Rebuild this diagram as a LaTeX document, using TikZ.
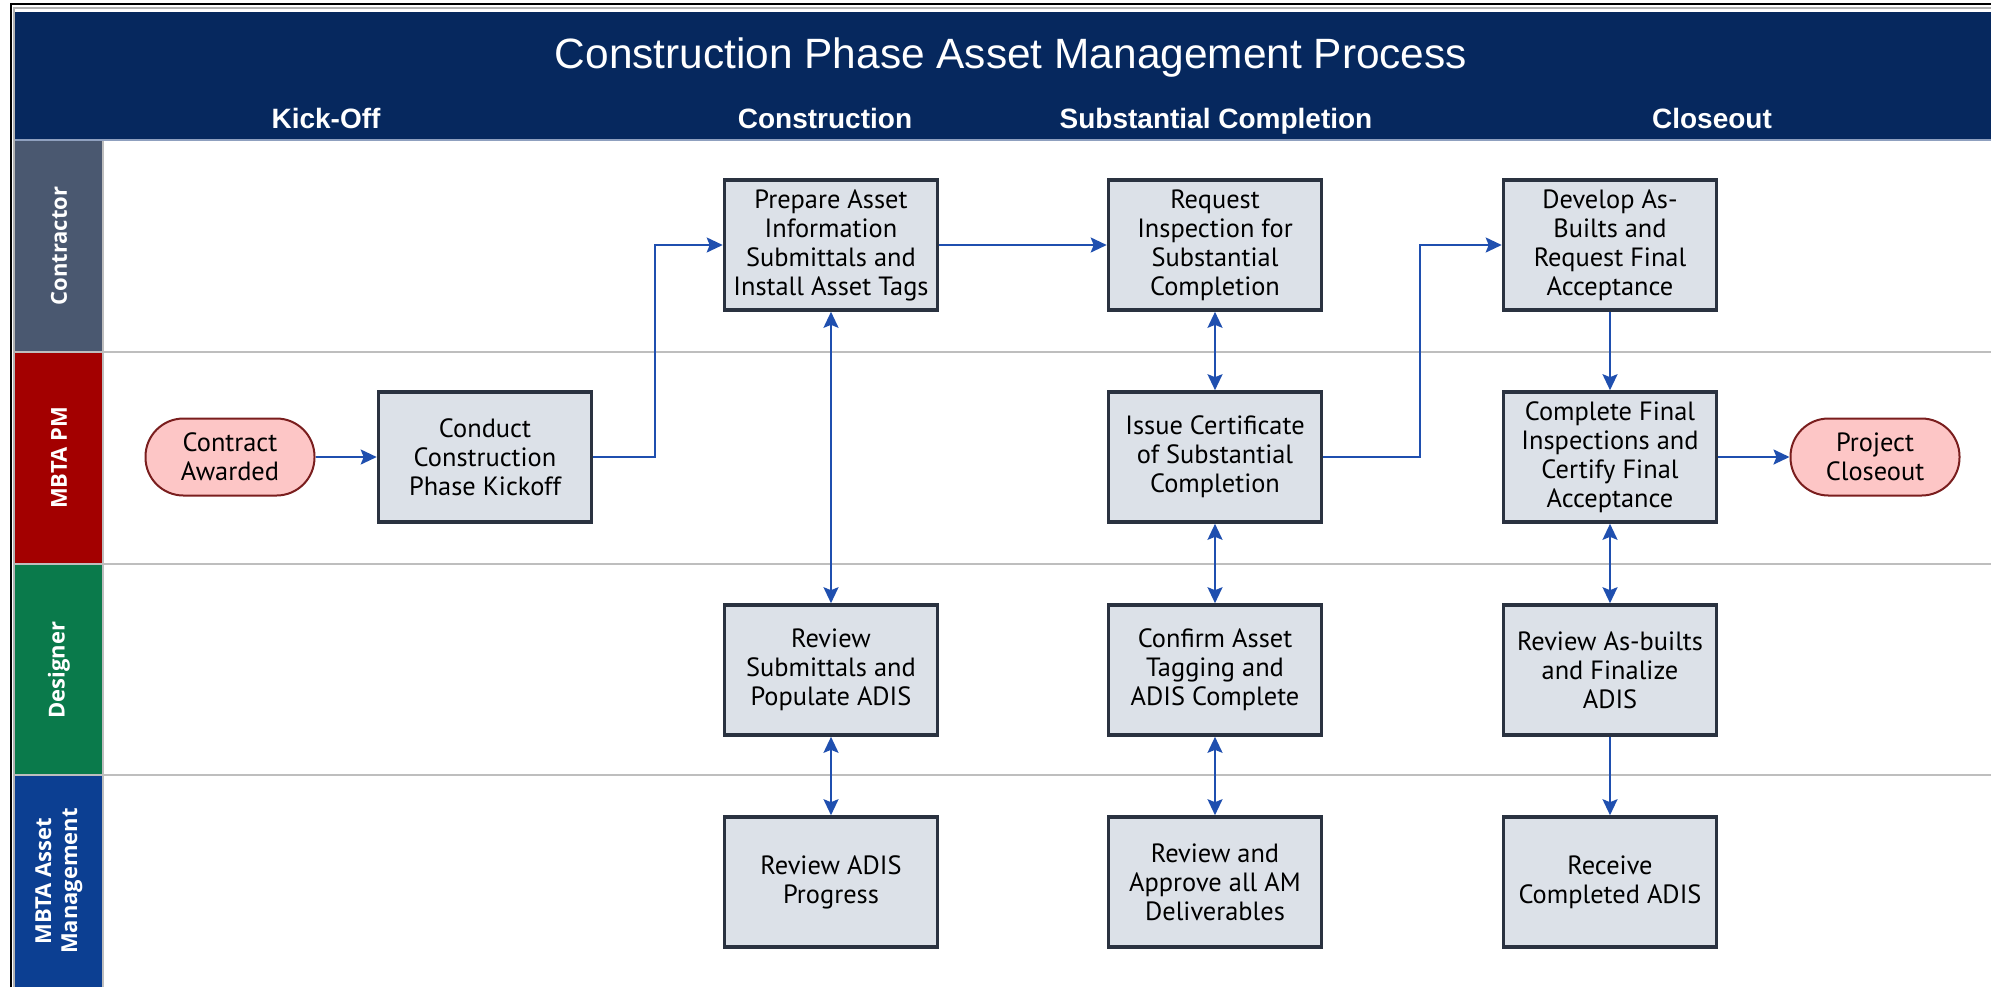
\documentclass[tikz,border=0pt]{standalone}
\usepackage{fontspec}
\setmainfont{PT Sans}
\newfontfamily\titlefont{Liberation Sans}
\newfontfamily\lanefont{Open Sans}
\usetikzlibrary{arrows.meta}
\definecolor{navy}{RGB}{6,40,94}
\definecolor{cContr}{RGB}{74,88,112}
\definecolor{cPM}{RGB}{163,0,0}
\definecolor{cDes}{RGB}{10,122,75}
\definecolor{cAM}{RGB}{12,63,146}
\definecolor{boxfill}{RGB}{220,225,232}
\definecolor{boxline}{RGB}{42,50,64}
\definecolor{termfill}{RGB}{253,198,198}
\definecolor{termline}{RGB}{122,30,30}
\definecolor{arrowblue}{RGB}{31,79,175}
\definecolor{sepgray}{RGB}{190,190,190}
\begin{document}
\begin{tikzpicture}[x=0.5pt,y=-0.5pt,
  procbox/.style={draw=boxline, fill=boxfill, line width=1.8pt, minimum width=106.5pt, minimum height=65pt, align=center, inner sep=2pt, font=\fontsize{13.2}{14.5}\selectfont},
  termbox/.style={draw=termline, fill=termfill, line width=1pt, rounded corners=19pt, minimum width=84.5pt, minimum height=38.5pt, align=center, font=\fontsize{13.2}{14.5}\selectfont},
  lanelabel/.style={rotate=90, text=white, align=center, font=\lanefont\bfseries\fontsize{11}{13}\selectfont},
  phase/.style={anchor=base, text=white, font=\titlefont\bfseries\fontsize{14}{16}\selectfont},
  arr/.style={draw=arrowblue, line width=1.1pt, -{Stealth[length=8pt,width=7.5pt,inset=1.5pt]}},
  darr/.style={draw=arrowblue, line width=1.1pt, {Stealth[length=8pt,width=7.5pt,inset=1.5pt]}-{Stealth[length=8pt,width=7.5pt,inset=1.5pt]}},
  sep/.style={draw=sepgray, line width=1.4pt}
]
\useasboundingbox (0,0) rectangle (1991,987);
\fill[white] (0,0) rectangle (1991,987);
% header band
\fill[navy] (15,12) rectangle (1991,140);
\draw[color={rgb,255:red,143;green,160;blue,191}, line width=0.8pt] (15,140) -- (1991,140);
% lane label column
\fill[cContr] (15,141) rectangle (103,352);
\fill[cPM] (15,352) rectangle (103,564);
\fill[cDes] (15,564) rectangle (103,775);
\fill[cAM] (15,775) rectangle (103,987);
\draw[sepgray, line width=0.8pt] (103,141) -- (103,987);
% separators
\draw[sep] (15,352) -- (1991,352);
\draw[sep] (15,564) -- (1991,564);
\draw[sep] (15,775) -- (1991,775);
% frame
\draw[black, line width=1.2pt] (11,987) -- (11,4) -- (1991,4);
\draw[color=gray!60, line width=0.6pt] (14,987) -- (14,8) -- (1991,8);
% title and phases
\node[text=white, font=\titlefont\fontsize{21.2}{25}\selectfont] (title) at (1011,58) {Construction Phase Asset Management Process};
\node[phase] (ph1) at (326,128) {Kick-Off};
\node[phase] (ph2) at (825,128) {Construction};
\node[phase] (ph3) at (1216,128) {Substantial Completion};
\node[phase] (ph4) at (1712,128) {Closeout};
% lane labels
\node[lanelabel] (l1) at (59,246) {Contractor};
\node[lanelabel] (l2) at (59,458) {MBTA PM};
\node[lanelabel] (l3) at (59,670) {Designer};
\node[lanelabel] (l4) at (59,881) {MBTA Asset\\Management};
% nodes
\node[termbox] (ca) at (230,457) {Contract\\Awarded};
\node[procbox] (cond) at (485,457) {Conduct\\Construction\\Phase Kickoff};
\node[procbox] (prep) at (831,245) {Prepare Asset\\Information\\Submittals and\\Install Asset Tags};
\node[procbox] (req) at (1215,245) {Request\\Inspection for\\Substantial\\Completion};
\node[procbox] (dev) at (1610,245) {Develop As-\\Builts and\\Request Final\\Acceptance};
\node[procbox] (iss) at (1215,457) {Issue Certificate\\of Substantial\\Completion};
\node[procbox] (cfin) at (1610,457) {Complete Final\\Inspections and\\Certify Final\\Acceptance};
\node[termbox] (pc) at (1875,457) {Project\\Closeout};
\node[procbox] (rsub) at (831,670) {Review\\Submittals and\\Populate ADIS};
\node[procbox] (conf) at (1215,670) {Confirm Asset\\Tagging and\\ADIS Complete};
\node[procbox] (rasb) at (1610,670) {Review As-builts\\and Finalize\\ADIS};
\node[procbox] (radis) at (831,882) {Review ADIS\\Progress};
\node[procbox] (rapp) at (1215,882) {Review and\\Approve all AM\\Deliverables};
\node[procbox] (rcv) at (1610,882) {Receive\\Completed ADIS};
% elbow coordinates
\coordinate (e1) at (655,0);
\coordinate (e2) at (1420,0);
% connectors
\draw[arr] (ca) -- (cond);
\draw[arr] (cond.east) -| (e1 |- prep.west) -- (prep.west);
\draw[arr] (prep) -- (req);
\draw[darr] (prep) -- (rsub);
\draw[darr] (rsub) -- (radis);
\draw[darr] (req) -- (iss);
\draw[darr] (iss) -- (conf);
\draw[darr] (conf) -- (rapp);
\draw[arr] (iss.east) -| (e2 |- dev.west) -- (dev.west);
\draw[arr] (dev) -- (cfin);
\draw[arr] (cfin) -- (pc);
\draw[darr] (cfin) -- (rasb);
\draw[arr] (rasb) -- (rcv);
\end{tikzpicture}
\end{document}
